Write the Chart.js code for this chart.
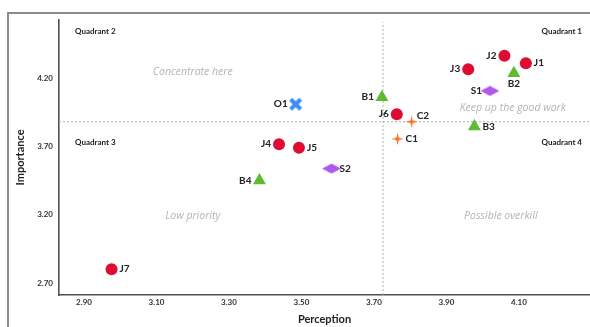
<!DOCTYPE html>
<html>
<head>
<meta charset="utf-8">
<script src="https://cdn.jsdelivr.net/npm/chart.js@4.4.1/dist/chart.umd.min.js"></script>
<style>
  html, body { margin: 0; padding: 0; background: #ffffff; }
  #wrap { width: 590px; height: 327px; position: relative; }
</style>
</head>
<body>
<div id="wrap"><canvas id="c" width="590" height="327"></canvas></div>
<script>
// ---------------- DATA ----------------
const jLabels = ['J1', 'J2', 'J3', 'J4', 'J5', 'J6', 'J7'];
const jPerception = [4.119, 4.060, 3.960, 3.438, 3.493, 3.763, 2.976];
const jImportance = [4.310, 4.365, 4.266, 3.717, 3.692, 3.937, 2.803];

const bLabels = ['B1', 'B2', 'B3', 'B4'];
const bPerception = [3.722, 4.086, 3.977, 3.384];
const bImportance = [4.061, 4.237, 3.846, 3.451];

const sLabels = ['S1', 'S2'];
const sPerception = [4.020, 3.583];
const sImportance = [4.107, 3.539];

const cLabels = ['C1', 'C2'];
const cPerception = [3.765, 3.804];
const cImportance = [3.756, 3.882];

const oLabels = ['O1'];
const oPerception = [3.484];
const oImportance = [4.010];

const meanPerception = 3.725;
const meanImportance = 3.882;

const xTickValues = [2.90, 3.10, 3.30, 3.50, 3.70, 3.90, 4.10];
const yTickValues = [2.70, 3.20, 3.70, 4.20];

const quadrantNames = ['Quadrant 1', 'Quadrant 2', 'Quadrant 3', 'Quadrant 4'];
const zoneTexts = ['Keep up the good work', 'Concentrate here', 'Low priority', 'Possible overkill'];
const zonePerception = [4.083, 3.200, 3.200, 4.050];
const zoneImportance = [3.983, 4.246, 3.193, 3.195];

// label placement (style, not data)
const labelPlacement = {
  J1: 'right', J2: 'left', J3: 'left', J4: 'left', J5: 'right', J6: 'left', J7: 'right',
  B1: 'left', B2: 'below', B3: 'right', B4: 'left',
  S1: 'left', S2: 'right', C1: 'right', C2: 'aboveRight', O1: 'left'
};

// ---------------- custom marker canvases ----------------
function makeCanvas(w, h, draw) {
  const cv = document.createElement('canvas');
  cv.width = w; cv.height = h;
  draw(cv.getContext('2d'), w, h);
  return cv;
}
const diamondImg = makeCanvas(20, 11, (g, w, h) => {
  g.fillStyle = '#B257EE';
  g.beginPath();
  g.moveTo(0.5, h / 2); g.lineTo(w / 2, 0.5); g.lineTo(w - 0.5, h / 2); g.lineTo(w / 2, h - 0.5);
  g.closePath(); g.fill();
});
const starImg = makeCanvas(13, 13, (g, w, h) => {
  g.fillStyle = '#F36F26';
  const cx = w / 2, cy = h / 2, R = 6.2, r = 1.6;
  g.beginPath();
  for (let i = 0; i < 8; i++) {
    const a = -Math.PI / 2 + i * Math.PI / 4;
    const rad = i % 2 === 0 ? R : r;
    const px = cx + rad * Math.cos(a), py = cy + rad * Math.sin(a);
    i === 0 ? g.moveTo(px, py) : g.lineTo(px, py);
  }
  g.closePath(); g.fill();
});
const crossImg = makeCanvas(15, 15, (g, w, h) => {
  g.strokeStyle = '#3E8EF4';
  g.lineWidth = 4.2;
  g.lineCap = 'butt';
  g.beginPath();
  g.moveTo(2.5, 2.5); g.lineTo(w - 2.5, h - 2.5);
  g.moveTo(w - 2.5, 2.5); g.lineTo(2.5, h - 2.5);
  g.stroke();
});

function pts(xs, ys, labels) {
  return xs.map((x, i) => ({ x: x, y: ys[i], label: labels[i] }));
}

const X_MIN = 2.831, X_MAX = 4.296, Y_MIN = 2.614, Y_MAX = 4.626;

// ---------------- plugins ----------------
const frame = {
  id: 'frame',
  beforeDraw(chart) {
    const ctx = chart.ctx;
    ctx.save();
    ctx.fillStyle = '#ffffff';
    ctx.fillRect(0, 0, chart.width, chart.height);
    ctx.strokeStyle = '#8c8c8c';
    ctx.lineWidth = 2;
    ctx.strokeRect(8, 13, chart.width + 10, chart.height + 10);
    ctx.restore();
  }
};

const annotations = {
  id: 'annotations',
  afterDatasetsDraw(chart) {
    const ctx = chart.ctx;
    const xs = chart.scales.x, ys = chart.scales.y;
    const area = chart.chartArea;
    ctx.save();
    // zone texts
    ctx.font = 'italic 10.5px "Open Sans", Lato, sans-serif';
    ctx.fillStyle = '#b4b4b4';
    ctx.textAlign = 'center';
    ctx.textBaseline = 'middle';
    zoneTexts.forEach((t, i) => {
      ctx.fillText(t, xs.getPixelForValue(zonePerception[i]), ys.getPixelForValue(zoneImportance[i]));
    });
    // quadrant names
    ctx.font = 'bold 8px Lato, "Open Sans", sans-serif';
    ctx.fillStyle = '#222';
    const yTop = ys.getPixelForValue(4.20) - 47;
    const yMid = ys.getPixelForValue(meanImportance) + 21;
    ctx.textAlign = 'right';
    ctx.fillText(quadrantNames[0], area.right - 8, yTop);
    ctx.fillText(quadrantNames[3], area.right - 8, yMid);
    ctx.textAlign = 'left';
    ctx.fillText(quadrantNames[1], area.left + 16, yTop);
    ctx.fillText(quadrantNames[2], area.left + 16, yMid);

    // data labels
    ctx.font = 'bold 10px Lato, "Open Sans", sans-serif';
    ctx.fillStyle = '#222';
    chart.data.datasets.forEach((ds, di) => {
      if (ds.type === 'line') return;
      const meta = chart.getDatasetMeta(di);
      meta.data.forEach((el, i) => {
        const lab = ds.data[i].label;
        const pos = labelPlacement[lab] || 'right';
        let x = el.x, y = el.y;
        if (pos === 'right') { ctx.textAlign = 'left'; x += 8; }
        else if (pos === 'left') { ctx.textAlign = 'right'; x -= 8; }
        else if (pos === 'below') { ctx.textAlign = 'center'; y += 11; }
        else if (pos === 'aboveRight') { ctx.textAlign = 'left'; x += 5; y -= 6; }
        ctx.textBaseline = 'middle';
        ctx.fillText(lab, x, y);
      });
    });
    ctx.restore();
  }
};

// ---------------- chart ----------------
const tickFont = { family: 'Lato, "Open Sans", sans-serif', size: 8, weight: 'bold' };
const titleFont = { family: 'Lato, "Open Sans", sans-serif', size: 11, weight: 'bold' };

function noPad(s) { s.paddingLeft = 0; s.paddingRight = 0; s.paddingTop = 0; s.paddingBottom = 0; }

new Chart(document.getElementById('c'), {
  type: 'scatter',
  data: {
    datasets: [
      { label: 'J', data: pts(jPerception, jImportance, jLabels), pointStyle: 'circle', pointRadius: 6,
        backgroundColor: '#DE0B33', borderColor: '#DE0B33', borderWidth: 0, order: 0 },
      { label: 'B', data: pts(bPerception, bImportance, bLabels), pointStyle: 'triangle', pointRadius: 7.5,
        backgroundColor: '#5FBB30', borderColor: '#5FBB30', borderWidth: 0, order: 0 },
      { label: 'S', data: pts(sPerception, sImportance, sLabels), pointStyle: diamondImg,
        backgroundColor: '#B257EE', order: 0 },
      { label: 'C', data: pts(cPerception, cImportance, cLabels), pointStyle: starImg,
        backgroundColor: '#F36F26', order: 0 },
      { label: 'O', data: pts(oPerception, oImportance, oLabels), pointStyle: crossImg,
        backgroundColor: '#3E8EF4', order: 0 },
      { type: 'line', label: 'vmean',
        data: [{ x: meanPerception, y: Y_MIN }, { x: meanPerception, y: 4.61 }],
        borderColor: '#b0b0b0', borderWidth: 1, borderDash: [2, 2], pointRadius: 0, order: 10 },
      { type: 'line', label: 'hmean',
        data: [{ x: X_MIN, y: meanImportance }, { x: X_MAX, y: meanImportance }],
        borderColor: '#b0b0b0', borderWidth: 1, borderDash: [2, 2], pointRadius: 0, order: 10 }
    ]
  },
  options: {
    responsive: false,
    animation: false,
    events: [],
    layout: { autoPadding: false, padding: { left: 0, right: 0, top: 20, bottom: 0 } },
    plugins: { legend: { display: false }, tooltip: { enabled: false } },
    scales: {
      x: {
        type: 'linear', min: X_MIN, max: X_MAX,
        afterFit(s) { s.height = 32; noPad(s); },
        afterBuildTicks(s) { s.ticks = xTickValues.map(v => ({ value: v })); },
        grid: { display: false, drawTicks: false },
        border: { display: true, color: '#505050', width: 1.6 },
        ticks: { font: tickFont, color: '#333', padding: 3, maxRotation: 0, autoSkip: false,
                 callback: v => Number(v).toFixed(2) },
        title: { display: true, text: 'Perception', font: titleFont, color: '#222',
                 padding: { top: 0, bottom: 0.5 } }
      },
      y: {
        type: 'linear', min: Y_MIN, max: Y_MAX,
        afterFit(s) { s.width = 59; noPad(s); },
        afterBuildTicks(s) { s.ticks = yTickValues.map(v => ({ value: v })); },
        grid: { display: false, drawTicks: false },
        border: { display: true, color: '#505050', width: 1.6 },
        ticks: { font: tickFont, color: '#333', padding: 6, autoSkip: false,
                 callback: v => Number(v).toFixed(2) },
        title: { display: true, text: 'Importance', font: titleFont, color: '#222',
                 padding: { top: 13.4, bottom: 0 } }
      }
    }
  },
  plugins: [frame, annotations]
});
</script>
</body>
</html>
